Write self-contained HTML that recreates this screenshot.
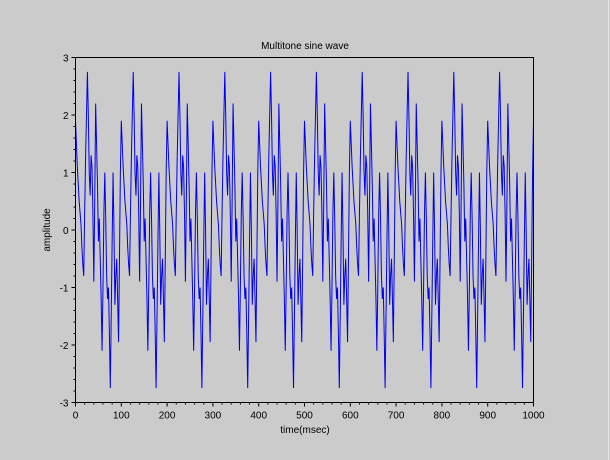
<!DOCTYPE html>
<html><head><meta charset="utf-8"><style>
html,body{margin:0;padding:0;background:#cbcbcb;}
svg{display:block;font-family:"Liberation Sans",sans-serif;}
</style></head><body>
<svg id="chart" width="610" height="460" viewBox="0 0 610 460">
<rect x="0" y="0" width="610" height="460" fill="#cbcbcb"/>
<line x1="608.5" y1="0" x2="608.5" y2="460" stroke="#e6e6e6"/>
<text x="305" y="49" font-size="10" text-anchor="middle">Multitone sine wave</text>
<text x="305" y="433" font-size="10" text-anchor="middle">time(msec)</text>
<text transform="translate(50,230) rotate(-90)" font-size="10" text-anchor="middle">amplitude</text>
<g id="ticks"></g>
<path id="series" fill="none" stroke="#0000ee" stroke-width="1"/>
<rect x="75.5" y="57.5" width="458" height="345" fill="none" stroke="#000"/>
</svg>
<script>
const xTicks = [0,100,200,300,400,500,600,700,800,900,1000];
const yTicks = [-3,-2,-1,0,1,2,3];
const sampleStepMs = 2;
const amplitude = [
1.9,1.5,1.1,0.8,0.5,0.3,0.1,-0.3,-0.6,-0.8,0.3,1.25,2.0,2.75,2.0,1.0,0.6,1.3,1.1,0.3,-0.9,0.5,2.2,1.5,0.8,-0.2,0.2,-0.5,-1.2,-2.1,-1.0,0.3,1.0,0.2,-0.8,-1.2,-1.0,-1.8,-2.75,-1.5,-0.2,1.0,0.0,-1.3,-0.8,-0.5,-1.2,-1.95,-0.5,1.0,
1.9,1.5,1.1,0.8,0.5,0.3,0.1,-0.3,-0.6,-0.8,0.3,1.25,2.0,2.75,2.0,1.0,0.6,1.3,1.1,0.3,-0.9,0.5,2.2,1.5,0.8,-0.2,0.2,-0.5,-1.2,-2.1,-1.0,0.3,1.0,0.2,-0.8,-1.2,-1.0,-1.8,-2.75,-1.5,-0.2,1.0,0.0,-1.3,-0.8,-0.5,-1.2,-1.95,-0.5,1.0,
1.9,1.5,1.1,0.8,0.5,0.3,0.1,-0.3,-0.6,-0.8,0.3,1.25,2.0,2.75,2.0,1.0,0.6,1.3,1.1,0.3,-0.9,0.5,2.2,1.5,0.8,-0.2,0.2,-0.5,-1.2,-2.1,-1.0,0.3,1.0,0.2,-0.8,-1.2,-1.0,-1.8,-2.75,-1.5,-0.2,1.0,0.0,-1.3,-0.8,-0.5,-1.2,-1.95,-0.5,1.0,
1.9,1.5,1.1,0.8,0.5,0.3,0.1,-0.3,-0.6,-0.8,0.3,1.25,2.0,2.75,2.0,1.0,0.6,1.3,1.1,0.3,-0.9,0.5,2.2,1.5,0.8,-0.2,0.2,-0.5,-1.2,-2.1,-1.0,0.3,1.0,0.2,-0.8,-1.2,-1.0,-1.8,-2.75,-1.5,-0.2,1.0,0.0,-1.3,-0.8,-0.5,-1.2,-1.95,-0.5,1.0,
1.9,1.5,1.1,0.8,0.5,0.3,0.1,-0.3,-0.6,-0.8,0.3,1.25,2.0,2.75,2.0,1.0,0.6,1.3,1.1,0.3,-0.9,0.5,2.2,1.5,0.8,-0.2,0.2,-0.5,-1.2,-2.1,-1.0,0.3,1.0,0.2,-0.8,-1.2,-1.0,-1.8,-2.75,-1.5,-0.2,1.0,0.0,-1.3,-0.8,-0.5,-1.2,-1.95,-0.5,1.0,
1.9,1.5,1.1,0.8,0.5,0.3,0.1,-0.3,-0.6,-0.8,0.3,1.25,2.0,2.75,2.0,1.0,0.6,1.3,1.1,0.3,-0.9,0.5,2.2,1.5,0.8,-0.2,0.2,-0.5,-1.2,-2.1,-1.0,0.3,1.0,0.2,-0.8,-1.2,-1.0,-1.8,-2.75,-1.5,-0.2,1.0,0.0,-1.3,-0.8,-0.5,-1.2,-1.95,-0.5,1.0,
1.9,1.5,1.1,0.8,0.5,0.3,0.1,-0.3,-0.6,-0.8,0.3,1.25,2.0,2.75,2.0,1.0,0.6,1.3,1.1,0.3,-0.9,0.5,2.2,1.5,0.8,-0.2,0.2,-0.5,-1.2,-2.1,-1.0,0.3,1.0,0.2,-0.8,-1.2,-1.0,-1.8,-2.75,-1.5,-0.2,1.0,0.0,-1.3,-0.8,-0.5,-1.2,-1.95,-0.5,1.0,
1.9,1.5,1.1,0.8,0.5,0.3,0.1,-0.3,-0.6,-0.8,0.3,1.25,2.0,2.75,2.0,1.0,0.6,1.3,1.1,0.3,-0.9,0.5,2.2,1.5,0.8,-0.2,0.2,-0.5,-1.2,-2.1,-1.0,0.3,1.0,0.2,-0.8,-1.2,-1.0,-1.8,-2.75,-1.5,-0.2,1.0,0.0,-1.3,-0.8,-0.5,-1.2,-1.95,-0.5,1.0,
1.9,1.5,1.1,0.8,0.5,0.3,0.1,-0.3,-0.6,-0.8,0.3,1.25,2.0,2.75,2.0,1.0,0.6,1.3,1.1,0.3,-0.9,0.5,2.2,1.5,0.8,-0.2,0.2,-0.5,-1.2,-2.1,-1.0,0.3,1.0,0.2,-0.8,-1.2,-1.0,-1.8,-2.75,-1.5,-0.2,1.0,0.0,-1.3,-0.8,-0.5,-1.2,-1.95,-0.5,1.0,
1.9,1.5,1.1,0.8,0.5,0.3,0.1,-0.3,-0.6,-0.8,0.3,1.25,2.0,2.75,2.0,1.0,0.6,1.3,1.1,0.3,-0.9,0.5,2.2,1.5,0.8,-0.2,0.2,-0.5,-1.2,-2.1,-1.0,0.3,1.0,0.2,-0.8,-1.2,-1.0,-1.8,-2.75,-1.5,-0.2,1.0,0.0,-1.3,-0.8,-0.5,-1.2,-1.95,-0.5,1.0,
1.9];

const X0=75.5,X1=533.5,Y0=402.5,Y1=57.5;
function xScale(v){return X0+(v-0)/(1000-0)*(X1-X0);}
function yScale(v){return Y0-(v+3)/6*(Y0-Y1);}
const NS="http://www.w3.org/2000/svg";
const g=document.getElementById('ticks');
function line(x1,y1,x2,y2,name){
  const l=document.createElementNS(NS,'line');
  l.setAttribute('x1',x1);l.setAttribute('y1',y1);l.setAttribute('x2',x2);l.setAttribute('y2',y2);
  l.setAttribute('stroke','#000');
  
  
  g.appendChild(l);
}
function text(x,y,s,anchor,name){
  const t=document.createElementNS(NS,'text');
  t.setAttribute('x',x);t.setAttribute('y',y);t.setAttribute('font-size','10');t.setAttribute('text-anchor',anchor);
  t.textContent=s;
  
  
  g.appendChild(t);
}
xTicks.forEach((v,i)=>{
  const x=xScale(v);
  line(x,Y0,x,Y0+4,'x-tick');
  text(x,Y0+16,String(v),'middle','x-tick-label');
  if(i<xTicks.length-1){
    for(let m=1;m<5;m++){const xm=xScale(v+(xTicks[i+1]-v)*m/5);line(xm,Y0,xm,Y0+2,'x-minor-tick');}
  }
});
yTicks.forEach((v,i)=>{
  const y=yScale(v);
  line(X0-4,y,X0,y,'y-tick');
  text(X0-7,y+4,String(v),'end','y-tick-label');
  if(i<yTicks.length-1){
    for(let m=1;m<5;m++){const ym=yScale(v+(yTicks[i+1]-v)*m/5);line(X0-2,ym,X0,ym,'y-minor-tick');}
  }
});
let d='';
amplitude.forEach((a,i)=>{d+=(i?'L':'M')+xScale(i*sampleStepMs).toFixed(2)+','+yScale(a).toFixed(2);});
document.getElementById('series').setAttribute('d',d);
</script>
</body></html>
